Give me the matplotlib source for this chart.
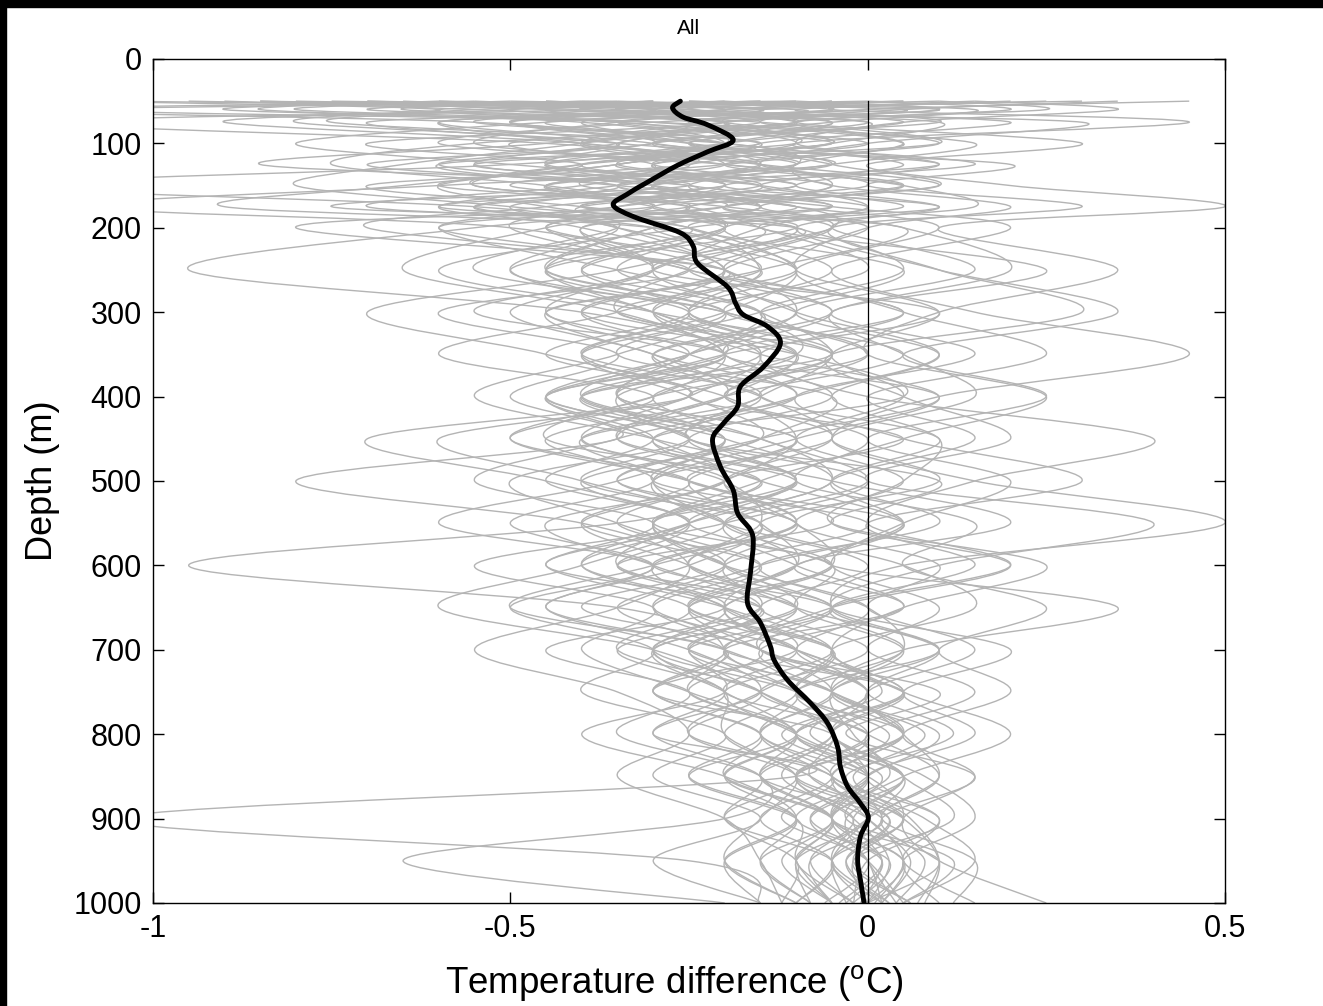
import numpy as np
import matplotlib
matplotlib.use('Agg')
import matplotlib.pyplot as plt
from matplotlib.patches import Rectangle, PathPatch
from matplotlib.path import Path

plt.rcParams['font.family'] = ['Liberation Sans', 'DejaVu Sans']
plt.rcParams['mathtext.fontset'] = 'custom'
plt.rcParams['mathtext.rm'] = 'Liberation Sans'

# depth levels (m) of the individual profiles
depth = [50, 60, 75, 100, 125, 150, 175, 200, 250, 300, 350, 400,
         450, 500, 550, 600, 650, 700, 750, 800, 850, 900, 950, 1000]

# individual temperature difference profiles (degC)
profiles = [
    [-0.95,-0.40,-0.10,-0.30,-0.45,-0.20,-0.55,-0.30,-0.10,-0.35,-0.05,-0.30,-0.45,-0.15,-0.30,-0.05,-0.25,-0.10,-0.20,0.00,-0.10,0.05,-0.05,0.02],
    [-0.10,-1.10,-0.30,0.05,-0.20,-0.50,-0.15,-0.40,-0.25,0.05,-0.20,0.10,-0.15,-0.35,-0.10,-0.30,-0.05,-0.20,0.05,-0.10,0.05,-0.05,0.10,0.00],
    [0.20,-0.05,0.45,-0.10,0.15,-0.20,0.10,-0.15,0.25,-0.05,0.15,-0.10,0.05,0.30,0.00,0.15,-0.05,0.10,0.00,0.12,-0.03,0.08,0.15,0.05],
    [-0.60,-0.20,-0.70,-0.35,-0.05,-0.60,-1.10,-0.50,-0.30,-0.55,-0.20,-0.45,-0.25,-0.50,-0.35,-0.20,-0.40,-0.15,-0.25,-0.10,-0.20,-0.05,-0.10,-0.02],
    [-0.40,0.10,-0.30,-0.60,-0.20,0.00,-0.30,-0.10,-0.45,-0.20,0.00,-0.25,0.05,-0.20,-0.05,-0.35,-0.10,-0.30,-0.15,-0.05,-0.15,0.02,-0.08,-0.05],
    [0.00,-0.50,-0.15,0.10,-0.35,-0.10,-0.40,0.05,-0.15,-0.40,-0.10,0.05,-0.30,-0.05,0.20,-0.10,0.05,-0.20,-0.05,0.05,-0.10,0.03,-0.02,0.06],
    [-0.80,-0.30,-0.55,-0.15,-0.60,-0.35,0.00,-0.25,-0.60,-0.30,-0.05,-0.40,-0.20,-0.05,-0.25,-0.40,-0.20,-0.05,-0.15,-0.25,-0.05,-0.12,0.00,-0.06],
    [0.30,-0.20,0.05,-0.25,0.10,-0.30,-0.05,0.20,-0.05,0.15,0.45,0.10,-0.05,0.10,-0.15,0.05,0.15,-0.05,0.05,-0.05,0.08,0.15,0.05,0.10],
    [-0.30,-0.70,-0.20,-0.45,-0.85,-0.25,-0.45,-0.70,-0.20,-0.35,-0.60,-0.30,-0.50,-0.25,-0.10,-0.30,-0.50,-0.20,-0.30,-0.15,-0.25,-0.10,-0.20,-0.15],
    [-0.50,0.05,-0.20,-0.05,-0.40,-0.55,-0.20,-0.05,-0.30,0.10,-0.20,-0.35,-0.10,-0.25,0.05,-0.15,-0.30,-0.10,0.02,-0.12,0.00,-0.08,0.02,-0.03],
    [-1.10,-0.60,-0.90,-0.40,-0.25,-0.70,-0.40,-0.20,-0.50,-0.25,-0.40,-0.15,-0.35,-0.55,-0.30,-0.45,-0.25,-0.35,-0.15,-0.25,-0.10,-0.20,-0.05,-0.10],
    [0.10,0.25,-0.10,0.30,0.00,0.20,0.50,0.10,0.35,0.10,0.00,0.25,0.05,-0.10,0.15,0.05,0.25,0.10,0.20,0.05,0.15,0.05,0.10,0.25],
    [-0.20,-0.35,-0.05,-0.25,-0.10,-0.45,-0.25,-0.15,0.00,-0.25,-0.10,-0.30,-0.15,0.00,-0.20,-0.10,0.05,-0.15,-0.05,0.05,-0.05,0.05,-0.03,0.02],
    [-0.70,-0.15,-0.45,-0.80,-0.50,-0.15,-0.35,-0.60,-0.35,-0.10,-0.30,-0.15,-0.40,-0.20,-0.45,-0.30,-0.15,-0.30,-0.10,-0.05,0.00,-0.05,0.05,0.00],
    [0.05,-0.25,0.20,-0.15,-0.05,0.10,-0.20,-0.05,-0.20,0.05,-0.15,0.00,0.40,0.15,0.00,0.20,-0.05,0.05,-0.10,0.00,0.10,0.00,-0.05,0.03],
    [-0.55,-0.90,-0.35,-0.20,-0.50,-1.20,-0.55,-0.35,-0.15,-0.45,-0.20,-0.40,-0.20,-0.35,-0.15,-0.25,-0.45,-0.20,-0.10,-0.20,-0.08,0.00,-0.10,-0.05],
    [-0.25,0.15,-0.05,-0.35,-0.15,-0.05,-0.20,-0.45,-0.15,-0.30,-0.15,0.10,-0.10,-0.30,-0.20,0.00,-0.15,0.00,-0.15,0.00,-0.05,0.10,0.00,-0.02],
    [-0.85,-0.45,-0.15,-0.50,-0.30,-0.40,-0.70,-0.25,-0.45,-0.20,-0.35,-0.55,-0.30,-0.10,-0.35,-0.95,-0.35,-0.20,-0.30,-0.15,-0.20,-0.05,-0.15,-0.08],
    [0.35,0.05,-0.15,0.10,-0.20,0.05,-0.15,0.05,0.20,-0.05,0.05,0.15,-0.05,0.15,0.50,0.05,-0.05,0.10,-0.05,0.05,-0.05,0.05,0.10,0.08],
    [-0.45,-0.25,-0.60,-0.30,-0.15,-0.35,-0.20,-0.55,-0.95,-0.40,-0.20,-0.35,-0.10,-0.25,-0.15,-0.10,-0.25,-0.05,-0.10,0.00,-0.10,-0.02,0.03,0.00],
    [-0.15,-0.60,-0.35,0.00,-0.30,-0.15,-0.40,-0.10,-0.25,-0.05,-0.30,-0.15,-0.05,-0.20,-0.10,-0.05,-0.20,-0.10,0.05,-0.10,0.02,-0.05,0.00,0.02],
    [-0.65,-0.35,-0.10,-0.55,-0.75,-0.45,-0.30,-0.45,-0.30,-0.50,-0.30,-0.20,-0.45,-0.30,-0.50,-0.30,-0.45,-0.25,-0.15,-0.30,-0.10,-1.05,-0.25,-0.15],
    [0.15,-0.15,-0.40,-0.20,0.05,-0.15,0.05,-0.20,-0.05,-0.20,0.05,-0.20,-0.35,-0.10,-0.25,-0.05,-0.10,0.05,-0.05,-0.02,0.03,-0.08,0.00,0.05],
    [-0.35,-1.20,-0.55,-0.25,-0.35,-0.65,-0.90,-0.30,-0.15,-0.25,-0.10,-0.20,-0.35,-0.15,-0.30,-0.20,-0.10,-0.30,-0.20,-0.10,-0.15,-0.05,-0.12,-0.05],
    [-0.05,-0.30,0.10,-0.05,-0.25,-0.40,-0.10,-0.30,-0.10,-0.25,-0.05,-0.20,0.00,-0.15,-0.30,-0.20,0.00,-0.10,0.00,-0.08,0.05,0.00,-0.05,-0.03],
    [-0.75,-0.10,-0.25,-0.05,-0.45,-0.20,-0.60,-0.15,-0.35,-0.70,-0.45,-0.25,-0.60,-0.40,-0.20,-0.35,-0.20,-0.45,-0.25,-0.35,-0.15,-0.20,-0.65,-0.20],
    [0.25,-0.10,0.10,-0.30,0.20,0.00,0.30,-0.05,0.10,0.30,-0.05,0.05,0.20,0.00,0.40,0.10,-0.05,0.20,0.05,0.15,0.00,0.10,0.05,0.15],
    [-0.30,-0.50,-0.75,-0.20,-0.10,-0.30,-0.05,-0.40,-0.20,-0.10,-0.25,-0.45,-0.25,-0.40,-0.15,-0.25,-0.05,-0.25,-0.10,-0.15,-0.05,-0.15,-0.05,-0.10],
    [-0.50,-0.80,-0.30,-0.10,-0.55,-0.25,-0.75,-0.10,-0.30,-0.15,-0.05,-0.15,-0.25,0.00,-0.20,-0.45,-0.15,-0.25,-0.05,-0.15,0.00,0.05,-0.02,0.00],
    [0.45,0.00,-0.20,0.15,-0.05,-0.25,-0.10,0.10,-0.10,0.05,0.25,0.00,0.15,-0.05,0.05,-0.05,0.35,0.05,-0.05,0.10,0.00,-0.05,0.05,0.02],
    [-0.90,-0.55,-0.20,-0.40,-0.65,-0.80,-0.50,-0.20,-0.40,-0.25,-0.45,-0.25,-0.70,-0.45,-0.25,-0.40,-0.60,-0.30,-0.20,-0.40,-0.20,-0.10,-0.20,-0.10],
    [-0.10,0.10,-0.20,-0.40,-0.15,0.10,-0.20,0.00,-0.20,-0.10,0.10,-0.10,-0.25,0.10,-0.05,0.20,-0.05,-0.15,0.10,-0.03,0.15,0.02,0.08,0.04],
    [-0.60,-0.30,-0.50,-0.20,-0.35,-0.10,-0.40,-0.35,-0.55,-0.20,-0.10,-0.40,-0.20,-0.35,-0.60,-0.30,-0.50,-0.30,-0.40,-0.20,-0.30,-0.15,-0.30,-0.15],
    [-0.20,-0.45,0.00,-0.20,-0.45,-0.25,-0.05,-0.25,0.05,-0.15,-0.35,-0.05,-0.15,-0.30,0.00,-0.20,-0.10,0.10,-0.10,0.05,-0.10,0.00,0.05,0.01],
    [-1.05,-0.25,-0.50,-0.30,-0.70,-0.35,-0.55,-0.35,-0.50,-0.30,-0.20,-0.45,-0.30,-0.45,-0.25,-0.55,-0.30,-0.40,-0.25,-0.10,-0.25,-0.10,-0.10,-0.05],
    [0.05,-0.40,0.30,0.00,-0.15,0.05,0.15,-0.10,0.10,0.35,0.05,0.25,0.00,0.20,0.05,-0.05,0.10,0.00,0.15,0.00,0.05,0.12,-0.02,0.06],
    [-0.40,-0.65,-0.20,-0.70,-0.40,-0.60,-0.30,-0.80,-0.20,-0.45,-0.30,-0.10,-0.40,-0.25,-0.10,-0.30,-0.20,-0.10,-0.30,-0.05,-0.15,-0.05,-0.10,-0.08],
    [-0.25,0.00,-0.45,-0.15,-0.30,-0.05,-0.25,-0.20,-0.40,-0.15,-0.20,-0.05,-0.25,-0.10,-0.30,-0.15,-0.30,-0.15,0.00,-0.10,0.00,-0.05,0.02,-0.04],
    [-0.70,-0.40,-1.15,-0.45,-0.20,-0.45,-0.25,-0.60,-0.25,-0.60,-0.35,-0.50,-0.35,-0.80,-0.40,-0.25,-0.35,-0.55,-0.35,-0.25,-0.35,-0.20,-0.15,-0.12],
    [0.15,0.35,0.05,-0.10,0.10,-0.10,0.10,-0.05,0.15,-0.10,0.10,-0.05,0.10,0.05,-0.05,0.25,0.05,-0.05,0.05,0.20,0.05,-0.03,0.12,0.05],
    [-0.45,-0.15,-0.35,-0.55,-0.25,-0.45,-0.30,-0.20,-0.35,-0.15,-0.25,-0.35,-0.20,-0.30,-0.20,-0.10,-0.25,-0.15,-0.05,-0.15,-0.05,0.02,-0.05,0.00],
    [-0.15,-0.45,-0.25,-0.35,-0.55,-0.30,-0.50,-0.35,-0.20,-0.30,-0.15,-0.25,-0.40,-0.20,-0.15,-0.25,-0.10,-0.20,-0.10,-0.05,-0.12,-0.02,-0.08,-0.02],
    [-0.55,-0.25,-0.05,-0.20,-0.35,-0.60,-0.45,-0.25,-0.10,-0.20,-0.40,-0.20,-0.10,-0.20,-0.35,-0.15,-0.25,-0.05,-0.20,-0.10,0.00,-0.10,0.03,-0.02],
    [-0.05,-0.20,-0.50,-0.25,-0.05,-0.30,-0.15,-0.30,-0.45,-0.30,-0.15,-0.35,-0.25,-0.10,-0.25,-0.35,-0.15,-0.25,-0.15,-0.05,-0.08,0.03,-0.03,0.03],
    [-0.35,-0.05,-0.25,-0.10,-0.30,-0.20,-0.35,-0.50,-0.25,-0.05,-0.25,-0.40,-0.15,-0.05,-0.20,-0.05,-0.20,-0.10,0.00,-0.05,0.05,-0.03,0.00,0.04],
    [0.10,-0.30,-0.10,-0.40,-0.20,0.05,-0.25,-0.10,0.05,-0.15,0.00,-0.15,0.10,-0.05,0.10,-0.15,0.00,0.05,-0.05,0.08,-0.02,0.06,0.10,0.07],
    [-0.60,-0.85,-0.40,-0.20,-0.40,-0.55,-0.25,-0.45,-0.65,-0.35,-0.20,-0.30,-0.50,-0.25,-0.40,-0.20,-0.35,-0.20,-0.25,-0.10,-0.20,-0.10,-0.15,-0.08],
    [-0.20,-0.05,-0.35,-0.05,-0.40,-0.15,0.00,-0.15,-0.30,-0.45,-0.25,-0.10,-0.30,-0.15,0.05,-0.10,-0.20,-0.05,-0.10,0.03,-0.05,0.00,0.06,0.02],
    [-0.85,-0.30,-0.60,-0.40,-0.15,-0.35,-0.60,-0.40,-0.20,-0.40,-0.25,-0.45,-0.30,-0.20,-0.40,-0.25,-0.15,-0.35,-0.20,-0.30,-0.15,-0.20,-0.10,-0.12],
    [0.00,0.20,-0.10,0.05,-0.10,-0.05,0.20,0.00,-0.10,0.10,-0.05,0.05,-0.10,0.05,-0.10,0.10,0.00,0.15,0.00,0.05,0.10,0.02,0.15,0.12],
    [-0.30,-0.55,-0.80,-0.35,-0.60,-0.30,-0.15,-0.30,-0.45,-0.20,-0.40,-0.25,-0.15,-0.40,-0.25,-0.40,-0.20,-0.30,-0.20,-0.20,-0.10,-0.15,-0.20,-0.10],
    [-0.10,-0.35,0.00,-0.30,-0.10,-0.35,-0.10,-0.05,-0.25,-0.35,-0.10,-0.20,-0.05,-0.30,-0.10,-0.20,-0.05,-0.15,0.05,-0.05,0.05,-0.02,0.02,-0.01],
]

# mean profile (thick black line)
mean_depth = [50, 58, 69, 78, 96, 110, 126, 146, 160, 173, 187, 206, 222, 242, 270, 289,
              303, 317, 337, 365, 388, 412, 432, 451, 483, 511, 538, 558, 574, 609, 645,
              668, 696, 712, 736, 763, 787, 815, 839, 862, 882, 899, 921, 949, 973, 1000]
mean_temp = [-0.262, -0.273, -0.258, -0.224, -0.188, -0.224, -0.266, -0.308, -0.336, -0.356,
             -0.327, -0.262, -0.244, -0.238, -0.196, -0.185, -0.174, -0.140, -0.122, -0.146,
             -0.178, -0.182, -0.202, -0.217, -0.206, -0.188, -0.182, -0.164, -0.160, -0.164,
             -0.168, -0.150, -0.136, -0.131, -0.112, -0.080, -0.056, -0.042, -0.038, -0.028,
             -0.010, 0.001, -0.010, -0.014, -0.010, -0.005]


def smooth_path(x, y):
    # catmull-rom style cubic bezier that passes through every point
    pts = np.column_stack([x, y]).astype(float)
    ext = np.vstack([pts[0], pts, pts[-1]])
    verts = [pts[0]]
    codes = [Path.MOVETO]
    for i in range(len(pts) - 1):
        p0, p1, p2, p3 = ext[i], ext[i + 1], ext[i + 2], ext[i + 3]
        verts += [p1 + (p2 - p0) / 6, p2 - (p3 - p1) / 6, p2]
        codes += [Path.CURVE4] * 3
    return Path(verts, codes)


fig = plt.figure(figsize=(13.23, 10.06), dpi=100)
ax = fig.add_axes([0.1156, 0.1024, 0.8103, 0.839])

for p in profiles:
    ax.add_patch(PathPatch(smooth_path(p, depth), facecolor='none',
                           edgecolor='#b4b4b4', lw=1.0))
ax.plot([0, 0], [50, 1000], color='k', lw=0.9)
ax.add_patch(PathPatch(smooth_path(mean_temp, mean_depth), facecolor='none',
                       edgecolor='k', lw=3.5, capstyle='round', joinstyle='round'))

ax.set_xlim(-1, 0.5)
ax.set_ylim(1000, 0)
ax.set_xticks([-1, -0.5, 0, 0.5])
ax.set_xticklabels(['-1', '-0.5', '0', '0.5'])
ax.set_yticks(range(0, 1001, 100))
ax.tick_params(direction='in', length=8, width=1, labelsize=22, pad=8,
               top=True, right=True)
for s in ax.spines.values():
    s.set_linewidth(1)
ax.set_xlabel('Temperature difference ($^{\\mathrm{o}}$C)', fontsize=26.5)
ax.xaxis.set_label_coords(0.4865, -0.071)
ax.set_ylabel('Depth (m)', fontsize=26, labelpad=10)
ax.set_title('All', fontsize=15, pad=18)

# black frame strips along the top and left edge
fig.add_artist(Rectangle((0, 1 - 7 / 1006), 1, 7 / 1006, transform=fig.transFigure,
                         color='k', zorder=10))
fig.add_artist(Rectangle((0, 0), 6 / 1323, 1, transform=fig.transFigure,
                         color='k', zorder=10))

fig.savefig('out.png', dpi=100)
